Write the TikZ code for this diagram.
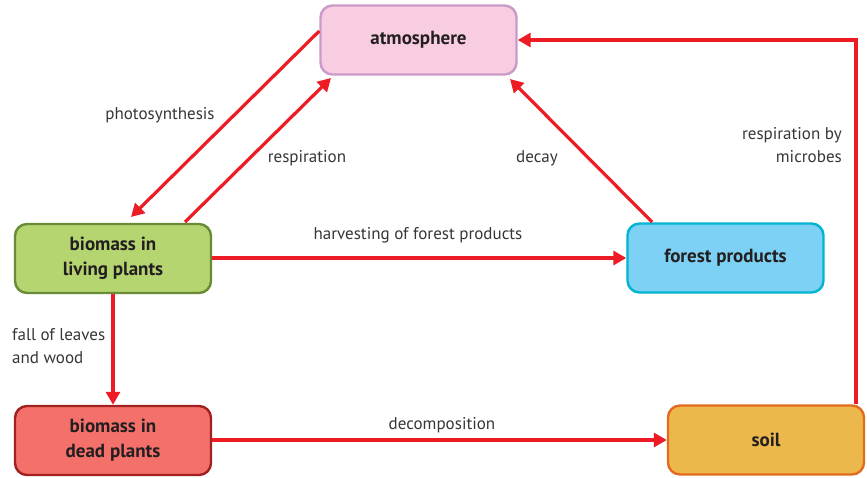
\documentclass[tikz,border=0pt]{standalone}
\usepackage{fontspec}
\setmainfont{PT Sans}
\usetikzlibrary{arrows.meta}
\definecolor{arr}{HTML}{ED1C24}
\definecolor{atmf}{HTML}{F8CCE1}\definecolor{atmd}{HTML}{C99BC8}
\definecolor{livf}{HTML}{B5D570}\definecolor{livd}{HTML}{6A8B35}
\definecolor{forf}{HTML}{7DD1F4}\definecolor{ford}{HTML}{00B4D2}
\definecolor{deadf}{HTML}{F3716A}\definecolor{deadd}{HTML}{A2201F}
\definecolor{soilf}{HTML}{EDB84B}\definecolor{soild}{HTML}{E26B22}
\definecolor{txt}{HTML}{231F20}
\begin{document}
\begin{tikzpicture}[x=1pt,y=-1pt,
  box/.style={rounded corners=12pt,line width=2.4pt,minimum width=196pt,minimum height=69pt,
    align=center,font=\bfseries\fontsize{19}{25}\selectfont,text=txt,inner sep=0pt},
  flow/.style={draw=arr,line width=3.2pt,-{Triangle[length=13pt,width=14pt]}},
  lbl/.style={font=\fontsize{17}{23}\selectfont,text=txt!90,inner sep=0pt}]
\useasboundingbox (0,0) rectangle (867,478);
\node[box,fill=atmf,draw=atmd] (atm) at (418.5,40) {atmosphere};
\node[box,fill=livf,draw=livd] (liv) at (113,258.5) {biomass in\\living plants};
\node[box,fill=forf,draw=ford] (for) at (725.5,258) {forest products};
\node[box,fill=deadf,draw=deadd] (dead) at (113,440.5) {biomass in\\dead plants};
\node[box,fill=soilf,draw=soild] (soil) at (766,440) {soil};
\coordinate (corner) at (856,40);
% arrows
\draw[flow] (atm.west |- 0,31) -- (131,217);
\draw[flow] (185,222) -- (331,78);
\draw[flow] (652,222) -- (510,79);
\draw[flow] (liv.east |- 0,258) -- (for.west |- 0,258);
\draw[flow] (liv.south) -- (dead.north);
\draw[flow] (dead.east |- 0,440) -- (soil.west |- 0,440);
\draw[flow] (soil.north -| corner) -- (corner) -- (atm.east |- corner);
% labels
\node[lbl] (l1) at (160,115) {photosynthesis};
\node[lbl] (l2) at (307,158) {respiration};
\node[lbl] (l3) at (537,158) {decay};
\node[lbl,align=right,anchor=east] (l4) at (842,145) {respiration by\\microbes};
\node[lbl] (l5) at (418,235) {harvesting of forest products};
\node[lbl,align=left,anchor=west] (l6) at (12,346) {fall of leaves\\and wood};
\node[lbl] (l7) at (442,425) {decomposition};
\end{tikzpicture}
\end{document}
